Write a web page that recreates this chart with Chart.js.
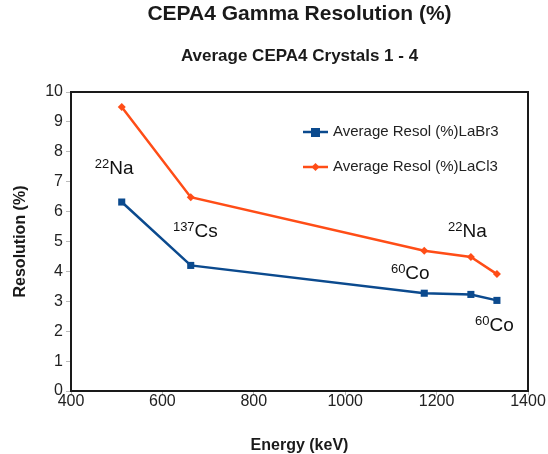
<!DOCTYPE html>
<html><head><meta charset="utf-8">
<script src="https://cdn.jsdelivr.net/npm/chart.js@4/dist/chart.umd.min.js"></script>
<style>html,body{margin:0;padding:0;background:#fff}#wrap{width:548px;height:454px}</style>
</head><body><div id="wrap"><canvas id="c" width="548" height="454"></canvas></div>
<script>
const energies = [511, 662, 1173, 1275, 1332];
const labr3 = [6.32, 4.2, 3.27, 3.23, 3.03];
const lacl3 = [9.5, 6.48, 4.69, 4.48, 3.91];
const seriesNames = ['Average Resol (%)LaBr3', 'Average Resol (%)LaCl3'];
const xTicks = [400, 600, 800, 1000, 1200, 1400];
const yTicks = [0,1,2,3,4,5,6,7,8,9,10];
// isotope labels: [mass number, element, anchor energy, anchor resolution]
const isoMass = ['22', '137', '60', '22', '60'];
const isoElem = ['Na', 'Cs', 'Co', 'Na', 'Co'];
const isoX = [452, 623, 1100, 1225, 1284];
const isoY = [7.5, 5.38, 3.98, 5.38, 2.24];

const FONT = '"Liberation Sans", Arial, sans-serif';
const BLUE = '#0b4a8e', ORANGE = '#ff4d17';

const extras = {
  id: 'extras',
  afterDatasetsDraw(chart) {
    const {ctx, chartArea: a, scales: {x, y}} = chart;
    ctx.save();
    ctx.strokeStyle = '#1a1a1a'; ctx.lineWidth = 2;
    ctx.strokeRect(a.left, a.top, a.right - a.left, a.bottom - a.top);
    ctx.fillStyle = '#111'; ctx.textBaseline = 'alphabetic'; ctx.textAlign = 'left';
    for (let i = 0; i < isoElem.length; i++) {
      const px = x.getPixelForValue(isoX[i]), py = y.getPixelForValue(isoY[i]);
      ctx.font = '13px ' + FONT;
      ctx.fillText(isoMass[i], px, py + 1);
      const w = ctx.measureText(isoMass[i]).width;
      ctx.font = '19px ' + FONT;
      ctx.fillText(isoElem[i], px + w, py + 7);
    }
    const ds = chart.data.datasets;
    ds.forEach((d, i) => {
      const ly = 132 + i * 35, lx = 303;
      ctx.strokeStyle = d.borderColor; ctx.lineWidth = 2.5;
      ctx.beginPath(); ctx.moveTo(lx, ly); ctx.lineTo(lx + 25, ly); ctx.stroke();
      ctx.fillStyle = d.borderColor;
      if (d.pointStyle === 'rect') { ctx.fillRect(lx + 8, ly - 4, 9, 9); }
      else { ctx.beginPath(); ctx.moveTo(lx+12.5, ly-4); ctx.lineTo(lx+16.5, ly); ctx.lineTo(lx+12.5, ly+4); ctx.lineTo(lx+8.5, ly); ctx.closePath(); ctx.fill(); }
      ctx.fillStyle = '#222'; ctx.font = '15px ' + FONT; ctx.textBaseline = 'middle';
      ctx.fillText(d.label, lx + 30, ly);
    });
    ctx.restore();
  }
};

new Chart(document.getElementById('c'), {
  type: 'line',
  data: {
    datasets: [
      { label: seriesNames[0], data: energies.map((e, i) => ({x: e, y: labr3[i]})),
        borderColor: BLUE, backgroundColor: BLUE, borderWidth: 2.5, pointStyle: 'rect', pointRadius: 5, pointBorderWidth: 0, tension: 0 },
      { label: seriesNames[1], data: energies.map((e, i) => ({x: e, y: lacl3[i]})),
        borderColor: ORANGE, backgroundColor: ORANGE, borderWidth: 2.5, pointStyle: 'rectRot', pointRadius: 4, pointBorderWidth: 0, tension: 0 }
    ]
  },
  options: {
    responsive: false, animation: false, devicePixelRatio: 1,
    layout: { padding: { left: 0, right: 20, top: 0, bottom: 0 } },
    plugins: {
      legend: { display: false }, tooltip: { enabled: false },
      title: { display: true, fullSize: false, text: 'CEPA4 Gamma Resolution (%)', color: '#1a1a1a',
        font: { family: FONT, size: 21, weight: 'bold' }, padding: { top: 1.4, bottom: 19.2 } },
      subtitle: { display: true, fullSize: false, text: 'Average CEPA4 Crystals 1 - 4', color: '#1a1a1a',
        font: { family: FONT, size: 17, weight: 'bold' }, padding: { top: 0, bottom: 25.8 } }
    },
    scales: {
      x: { type: 'linear', min: 400, max: 1400,
        afterBuildTicks(s) { s.ticks = xTicks.map(v => ({value: v})); },
        afterFit(s) { s.height = 63; },
        ticks: { color: '#222', font: { family: FONT, size: 16 }, padding: -3, maxRotation: 0, callback: v => String(v) },
        grid: { display: true, drawOnChartArea: false, tickLength: 4, color: '#bbb' },
        border: { display: false },
        title: { display: true, text: 'Energy (keV)', color: '#1a1a1a', font: { family: FONT, size: 16, weight: 'bold' }, padding: { top: 0, bottom: -1.2 } }
      },
      y: { min: 0, max: 10,
        afterBuildTicks(s) { s.ticks = yTicks.map(v => ({value: v})); },
        afterFit(s) { s.width = 71; },
        ticks: { color: '#222', font: { family: FONT, size: 16 }, padding: 3, callback: v => String(v) },
        grid: { display: true, drawOnChartArea: false, tickLength: 5, color: '#bbb' },
        border: { display: false },
        title: { display: true, text: 'Resolution (%)', color: '#1a1a1a', font: { family: FONT, size: 16, weight: 'bold' }, padding: { top: 11.4, bottom: 0 } }
      }
    }
  },
  plugins: [extras]
});
</script></body></html>
